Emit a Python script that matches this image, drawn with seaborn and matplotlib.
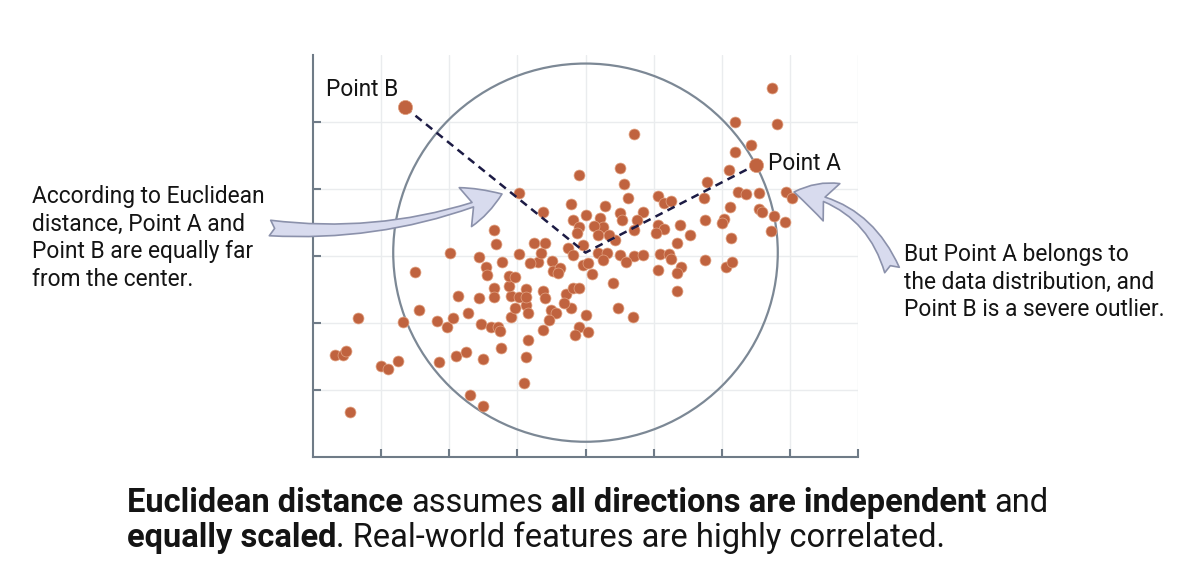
import matplotlib
matplotlib.use("Agg")
import matplotlib.pyplot as plt
from matplotlib.patches import Circle, FancyArrowPatch
import numpy as np
import seaborn as sns

# ---------------------------------------------------------------
# data (axis units: x 0..8, y 0..6)
# ---------------------------------------------------------------
pts_x = [0.54, 0.32, 0.44, 0.49, 0.66, 1.00, 1.10, 1.25, 1.32, 1.49,
         1.56, 1.82, 1.97, 2.06, 2.28, 1.85, 2.10, 2.25, 2.50, 2.31,
         2.50, 3.10, 2.76, 3.13, 3.16, 2.46, 2.62, 2.71, 2.75, 2.90,
         2.96, 3.13, 3.15, 2.13, 2.44, 2.65, 2.66, 2.91, 3.03, 3.12,
         3.13, 2.87, 2.87, 2.97, 2.54, 2.56, 2.78, 2.44, 2.01, 3.03,
         3.31, 3.34, 3.51, 3.53, 3.62, 3.19, 3.59, 3.38, 3.41, 3.71,
         3.82, 3.91, 3.79, 3.49, 3.56, 3.46, 3.38, 3.68, 4.00, 3.90,
         3.84, 4.03, 3.96, 4.03, 4.09, 4.18, 4.32, 4.50, 4.71, 4.84,
         4.59, 4.26, 4.40, 5.10, 5.22, 5.26, 5.75, 6.06, 6.15, 5.06,
         5.40, 5.35, 5.34, 4.47, 4.69, 3.03, 3.37, 3.78, 3.81, 3.90,
         4.00, 3.88, 2.65, 2.69, 3.25, 3.41, 3.74, 3.82, 3.97, 3.90,
         4.71, 4.50, 4.56, 4.62, 4.28, 5.06, 5.15, 5.26, 4.50, 4.54,
         4.84, 4.76, 4.71, 4.22, 4.26, 4.12, 4.18, 4.44, 4.34, 5.06,
         5.15, 5.04, 5.38, 5.54, 5.34, 6.74, 6.19, 6.81, 6.43, 6.19,
         6.10, 5.78, 5.74, 6.24, 6.35, 6.54, 6.94, 7.03, 6.12, 6.54,
         6.59, 6.76, 6.93, 5.75, 6.03, 6.01, 6.13, 6.72]
pts_y = [0.67, 1.52, 1.52, 1.58, 2.07, 1.36, 1.31, 1.43, 2.01, 2.76,
         2.19, 2.03, 1.94, 2.07, 2.15, 1.42, 1.51, 1.57, 1.46, 0.93,
         0.76, 1.10, 1.63, 1.49, 1.75, 1.99, 1.94, 1.94, 1.88, 2.09,
         2.22, 2.27, 2.15, 2.40, 2.37, 2.52, 2.39, 2.40, 2.39, 2.51,
         2.39, 2.55, 2.70, 2.69, 2.84, 2.72, 2.91, 2.99, 3.04, 3.03,
         2.91, 3.04, 2.93, 2.78, 2.82, 2.90, 2.75, 2.48, 2.37, 2.43,
         2.52, 2.52, 2.22, 2.19, 2.15, 2.04, 1.90, 2.30, 2.12, 1.94,
         1.82, 1.87, 2.87, 2.90, 2.73, 3.04, 3.04, 3.01, 3.00, 3.01,
         2.91, 2.94, 2.60, 3.03, 3.03, 2.96, 2.94, 2.84, 2.91, 2.79,
         2.84, 2.75, 2.48, 2.22, 2.09, 3.94, 3.66, 3.78, 3.54, 3.43,
         3.61, 3.34, 3.39, 3.18, 3.19, 3.19, 3.12, 3.01, 3.16, 4.21,
         4.82, 4.31, 4.07, 3.87, 3.75, 3.90, 3.79, 3.82, 3.64, 3.54,
         3.66, 3.54, 3.39, 3.57, 3.43, 3.45, 3.31, 3.24, 3.31, 3.46,
         3.40, 3.34, 3.46, 3.31, 3.19, 5.51, 5.00, 4.97, 4.66, 4.55,
         4.28, 4.10, 3.87, 3.96, 3.93, 3.94, 3.96, 3.87, 3.73, 3.70,
         3.66, 3.60, 3.51, 3.54, 3.55, 3.49, 3.27, 3.37]

point_a = (6.50, 4.36)
point_b = (1.35, 5.22)
center = (4.00, 3.05)

x_ticks = [1, 2, 3, 4, 5, 6, 7, 8]
y_ticks = [1, 2, 3, 4, 5]

left_note = "According to Euclidean\ndistance, Point A and\nPoint B are equally far\nfrom the center."
right_note = "But Point A belongs to\nthe data distribution, and\nPoint B is a severe outlier."

# (text, bold, space before)
caption_line1 = [("Euclidean distance", True, False), ("assumes", False, True),
                 ("all directions are independent", True, True), ("and", False, True)]
caption_line2 = [("equally scaled", True, False),
                 (". Real-world features are highly correlated.", False, False)]

DOT = "#c0633f"
DOT_EDGE = "#e3a585"
NAVY = "#1c1b44"
RING = "#7c8895"
SPINE = "#6f7b87"
ARROW_FACE = "#d8dbee"
ARROW_EDGE = "#8b91ab"
INK = "#141414"
FONT = "Roboto"

sns.set_theme(style="white")
plt.rcParams["font.family"] = [FONT, "DejaVu Sans"]

fig = plt.figure(figsize=(11.81, 5.78), dpi=100)
fig.patch.set_facecolor("white")
ax = fig.add_axes([313 / 1181, 121 / 578, 545 / 1181, 402 / 578])

# scatter of the distribution
sns.scatterplot(x=pts_x, y=pts_y, ax=ax, s=62, color=DOT,
                edgecolor=DOT_EDGE, linewidth=0.5, zorder=3, legend=False)
sns.scatterplot(x=[point_a[0], point_b[0]], y=[point_a[1], point_b[1]], ax=ax,
                s=105, color=DOT, edgecolor=DOT_EDGE, linewidth=0.5,
                zorder=5, legend=False)

# equal-distance circle through Point A
radius = np.hypot(point_a[0] - center[0], point_a[1] - center[1])
ax.add_patch(Circle(center, radius, fill=False, ec=RING, lw=1.6, zorder=2))

# dashed distances
ax.plot([point_b[0], center[0], point_a[0]], [point_b[1], center[1], point_a[1]],
        ls="--", dashes=(3.2, 2.2), color=NAVY, lw=1.8, zorder=4)

ax.annotate("Point A", xy=point_a, xytext=(9, 1), textcoords="offset points",
            ha="left", va="center", fontsize=16.3, color=INK)
ax.annotate("Point B", xy=point_b, xytext=(-5, 13), textcoords="offset points",
            ha="right", va="center", fontsize=16.3, color=INK)

ax.set_xlim(0, 8)
ax.set_ylim(0, 6)
ax.set_xticks(x_ticks)
ax.set_yticks(y_ticks)
ax.grid(True, color="#eaecee", lw=1.0, zorder=0)
ax.tick_params(direction="in", length=6, width=1.5, color=SPINE,
               labelbottom=False, labelleft=False, bottom=True, left=True)
for side in ["top", "right"]:
    ax.spines[side].set_visible(False)
for side in ["left", "bottom"]:
    ax.spines[side].set_color(SPINE)
    ax.spines[side].set_linewidth(1.5)
ax.set_facecolor("none")

# side notes
fig.text(32 / 1181, 1 - 185 / 578, left_note, ha="left", va="top",
         fontsize=16.4, linespacing=1.25, color=INK)
fig.text(904 / 1181, 1 - 243 / 578, right_note, ha="left", va="top",
         fontsize=16.4, linespacing=1.25, color=INK)

# curved callout arrows
style = "fancy,head_length=1.0,head_width=1.05,tail_width=0.4"
fig.patches.append(FancyArrowPatch(
    (270 / 1181, 1 - 228 / 578), (502 / 1181, 1 - 194 / 578),
    transform=fig.transFigure, arrowstyle=style, mutation_scale=28,
    connectionstyle="arc3,rad=0.12", fc=ARROW_FACE, ec=ARROW_EDGE, lw=1.2,
    shrinkA=0, shrinkB=0))
fig.patches.append(FancyArrowPatch(
    (892 / 1181, 1 - 270 / 578), (794 / 1181, 1 - 192 / 578),
    transform=fig.transFigure, arrowstyle=style, mutation_scale=28,
    connectionstyle="arc3,rad=0.3", fc=ARROW_FACE, ec=ARROW_EDGE, lw=1.2,
    shrinkA=0, shrinkB=0))


def caption(parts, x, y, size):
    prev = None
    for text, bold, space in parts:
        weight = "bold" if bold else "normal"
        if prev is None:
            prev = fig.text(x, y, text, fontsize=size, fontweight=weight,
                            color=INK, ha="left", va="baseline")
        else:
            prev = ax.annotate(text, xy=(1, 0), xycoords=prev,
                               xytext=(0.25 * size if space else 0, 0),
                               textcoords="offset points", fontsize=size,
                               fontweight=weight, color=INK, ha="left",
                               va="bottom", annotation_clip=False)


caption(caption_line1, 127 / 1181, 1 - 512 / 578, 23.5)
caption(caption_line2, 127 / 1181, 1 - 547 / 578, 23.5)

fig.savefig("out.png", dpi=100, facecolor="white")
